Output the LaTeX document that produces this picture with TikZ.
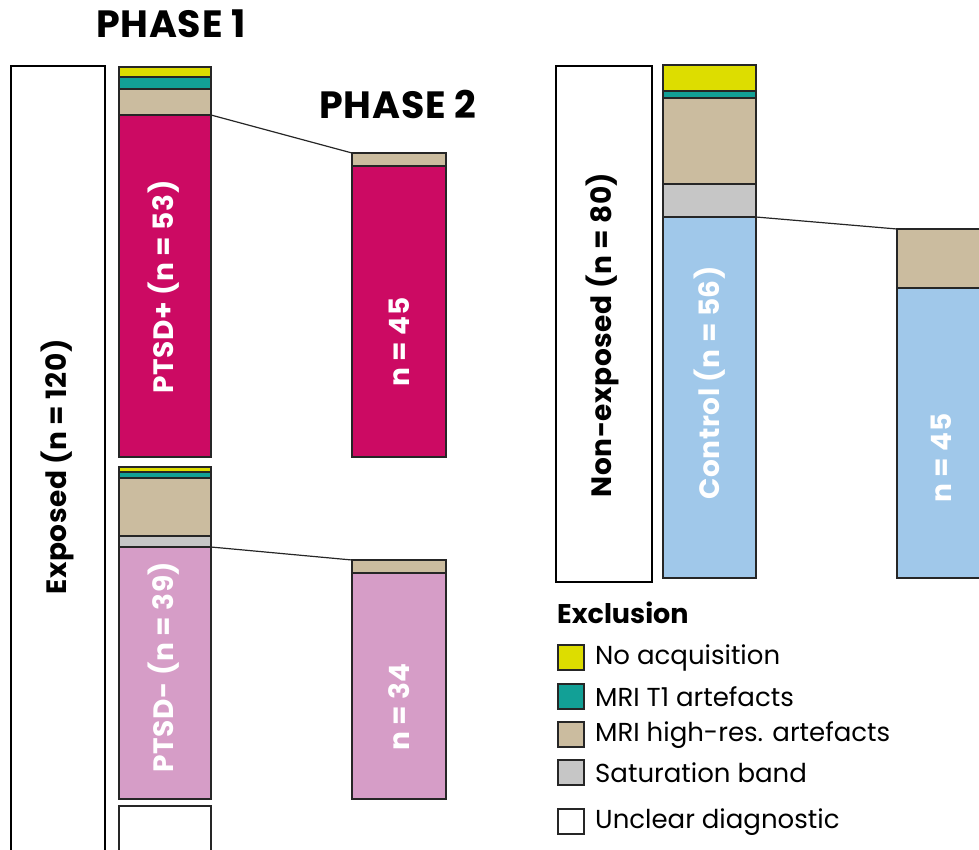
\documentclass[tikz,border=0pt]{standalone}
\usepackage{fontspec}
\setmainfont{Poppins}
\newfontfamily\widefont[LetterSpace=2]{Poppins}
\definecolor{cyel}{HTML}{DDDD00}
\definecolor{cteal}{HTML}{12A096}
\definecolor{ctan}{HTML}{CBBC9F}
\definecolor{cgray}{HTML}{C6C6C6}
\definecolor{cmag}{HTML}{CC0A63}
\definecolor{cpink}{HTML}{D69DC7}
\definecolor{cblue}{HTML}{A0C8EA}
\tikzset{
  seg/.style={draw=black!85, line width=1.6pt, inner sep=0pt, outer sep=0pt, anchor=north west},
  bigbox/.style={draw=black, line width=2.6pt, inner sep=0pt, outer sep=0pt, anchor=north west, fill=white},
  link/.style={draw=black!85, line width=1.2pt},
  title/.style={font=\widefont\fontsize{38}{42}\selectfont\bfseries},
  vlab/.style={font=\widefont\fontsize{28}{32}\selectfont\bfseries, rotate=90},
  leglab/.style={font=\fontsize{26}{30}\selectfont, anchor=west, inner sep=0pt},
  legbox/.style={draw=black!85, line width=1.6pt, inner sep=0pt, outer sep=0pt, anchor=north west, minimum width=26pt, minimum height=25pt}
}
\newcommand{\myseg}[6]{\node[seg, fill=#6, minimum width={(#4-#2)*1pt}, minimum height={(#5-#3)*1pt}] (#1) at (#2,#3) {};}
\begin{document}
\begin{tikzpicture}[x=1pt,y=-1pt]
\useasboundingbox (0,0) rectangle (979,849);
\clip (0,0) rectangle (979,849);
% titles
\node[title] (ph1) at (171,24) {PHASE 1};
\node[title] (ph2) at (398,104) {PHASE 2};
% Exposed
\node[bigbox, minimum width=94pt, minimum height=820pt] (exp) at (11,66) {};
\node[vlab] (explab) at (57,467) {Exposed (n = 120)};
% PTSD+ phase 1
\myseg{a1}{119}{67}{211}{77}{cyel}
\myseg{a2}{119}{77}{211}{89}{cteal}
\myseg{a3}{119}{89}{211}{115}{ctan}
\myseg{a4}{119}{115}{211}{457}{cmag}
\node[vlab, text=white] (a4lab) at (164,287) {PTSD+ (n = 53)};
% PTSD+ phase 2
\myseg{b1}{352}{153}{446}{166}{ctan}
\myseg{b2}{352}{166}{446}{457}{cmag}
\node[vlab, text=white] (b2lab) at (399,342) {n = 45};
\draw[link] (a4.north east) -- (b1.north west);
% PTSD- phase 1
\myseg{c1}{119}{467}{211}{472}{cyel}
\myseg{c2}{119}{472}{211}{478}{cteal}
\myseg{c3}{119}{478}{211}{536}{ctan}
\myseg{c4}{119}{536}{211}{547}{cgray}
\myseg{c5}{119}{547}{211}{799}{cpink}
\node[vlab, text=white] (c5lab) at (164,667) {PTSD- (n = 39)};
% PTSD- phase 2
\myseg{d1}{352}{560}{446}{573}{ctan}
\myseg{d2}{352}{573}{446}{799}{cpink}
\node[vlab, text=white] (d2lab) at (399,707) {n = 34};
\draw[link] (c5.north east) -- (d1.north west);
% unclear
\myseg{e1}{119}{806}{211}{880}{white}
% Non-exposed
\node[bigbox, minimum width=96pt, minimum height=516pt] (nexp) at (556,66) {};
\node[vlab] (nexplab) at (602,335) {Non-exposed (n = 80)};
\myseg{f1}{663}{65}{756}{91}{cyel}
\myseg{f2}{663}{91}{756}{98}{cteal}
\myseg{f3}{663}{98}{756}{184}{ctan}
\myseg{f4}{663}{184}{756}{217}{cgray}
\myseg{f5}{663}{217}{756}{578}{cblue}
\node[vlab, text=white] (f5lab) at (710,383) {Control (n = 56)};
\myseg{g1}{897}{229}{1000}{288}{ctan}
\myseg{g2}{897}{288}{1000}{578}{cblue}
\node[vlab, text=white] (g2lab) at (941,458) {n = 45};
\draw[link] (f5.north east) -- (g1.north west);
% legend
\node[font=\fontsize{27}{30}\selectfont\bfseries, anchor=west, inner sep=0pt] (legt) at (557,613) {Exclusion};
\node[legbox, fill=cyel] (l1) at (558,645) {};
\node[leglab] (l1t) at (595,658) {No acquisition};
\node[legbox, fill=cteal] (l2) at (558,684) {};
\node[leglab] (l2t) at (595,697) {MRI T1 artefacts};
\node[legbox, fill=ctan] (l3) at (558,722) {};
\node[leglab] (l3t) at (595,735) {MRI high-res. artefacts};
\node[legbox, fill=cgray] (l4) at (558,760) {};
\node[leglab] (l4t) at (595,773) {Saturation band};
\node[legbox, fill=white] (l5) at (558,809) {};
\node[leglab] (l5t) at (595,822) {Unclear diagnostic};
\end{tikzpicture}
\end{document}
